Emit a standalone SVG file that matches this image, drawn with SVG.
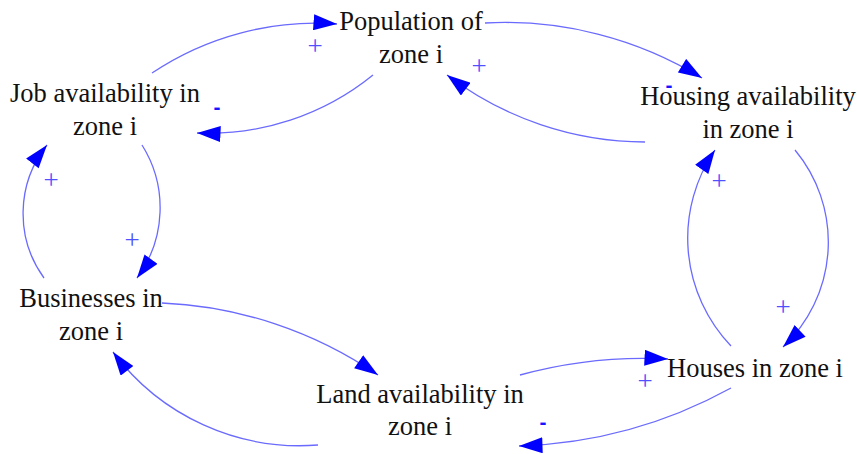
<svg xmlns="http://www.w3.org/2000/svg" width="857" height="454" viewBox="0 0 857 454">
<style>
.lbl{font-family:"Liberation Serif","Times New Roman",serif;font-size:26.5px;fill:#111;text-anchor:middle}
.lnk{fill:none;stroke:#6a6aff;stroke-width:1.3}
.pos{font-family:"Liberation Serif","Times New Roman",serif;font-size:27px;fill:#5050ff;text-anchor:middle}
.neg{font-family:"Liberation Sans",Arial,sans-serif;font-size:21px;font-weight:bold;fill:#1515ff;text-anchor:middle}
</style>
<defs>
<marker id="ah" markerUnits="userSpaceOnUse" markerWidth="24" markerHeight="16" refX="22" refY="7.5" orient="auto" viewBox="0 0 22 15">
<path d="M0,0 L22,7.5 L0,15 z" fill="#0000ff"/>
</marker>
</defs>
<rect width="857" height="454" fill="#fff"/>
<g id="connectors">
<path class="lnk" marker-end="url(#ah)" d="M152,73 A294,294 0 0 1 337,24"/>
<path class="lnk" marker-end="url(#ah)" d="M373,75 A261,261 0 0 1 197,133"/>
<path class="lnk" marker-end="url(#ah)" d="M485,23 A377,377 0 0 1 702,78"/>
<path class="lnk" marker-end="url(#ah)" d="M645,142 A330,330 0 0 1 447,75"/>
<path class="lnk" marker-end="url(#ah)" d="M795,150 A144,144 0 0 1 783,347"/>
<path class="lnk" marker-end="url(#ah)" d="M731,346 A156,156 0 0 1 715,150"/>
<path class="lnk" marker-end="url(#ah)" d="M142,145 A118,118 0 0 1 137,278"/>
<path class="lnk" marker-end="url(#ah)" d="M44,278 A110,110 0 0 1 47,145"/>
<path class="lnk" marker-end="url(#ah)" d="M162,303 A413,413 0 0 1 378,375"/>
<path class="lnk" marker-end="url(#ah)" d="M731,388 A471,471 0 0 1 519,446"/>
<path class="lnk" marker-end="url(#ah)" d="M520,375 A465,465 0 0 1 668,359"/>
<path class="lnk" marker-end="url(#ah)" d="M318,445 A233,233 0 0 1 113,352"/>
<text class="pos" x="315" y="55">+</text>
<text class="pos" x="479" y="75">+</text>
<text class="pos" x="132" y="249">+</text>
<text class="pos" x="51" y="189">+</text>
<text class="pos" x="719" y="190">+</text>
<text class="pos" x="783" y="316">+</text>
<text class="pos" x="645" y="390">+</text>
<text class="neg" x="217" y="114">-</text>
<text class="neg" x="669" y="92">-</text>
<text class="neg" x="543" y="429">-</text>
</g>
<g id="population"><text class="lbl" x="411" y="30">Population of</text><text class="lbl" x="411" y="63">zone i</text></g>
<g id="job"><text class="lbl" x="105" y="102">Job availability in</text><text class="lbl" x="105" y="135">zone i</text></g>
<g id="housing"><text class="lbl" x="748" y="105">Housing availability</text><text class="lbl" x="748" y="138">in zone i</text></g>
<g id="businesses"><text class="lbl" x="91" y="307">Businesses in</text><text class="lbl" x="91" y="340">zone i</text></g>
<g id="land"><text class="lbl" x="420" y="403">Land availability in</text><text class="lbl" x="420" y="435">zone i</text></g>
<g id="houses"><text class="lbl" x="755" y="377">Houses in zone i</text></g>
</svg>
